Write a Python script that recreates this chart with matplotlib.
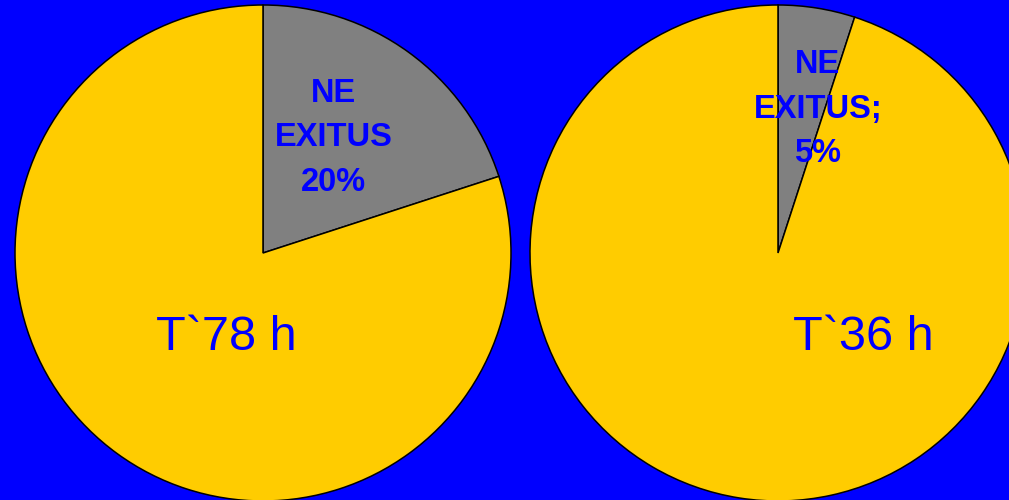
import matplotlib.pyplot as plt

plt.rcParams['font.family'] = ['Liberation Sans', 'DejaVu Sans']

# share of cases per group: exitus (grey) vs not
groups = ['T`78 h', 'T`36 h']
ne_exitus = [20, 5]
seps = ['', ';']
rest = [100 - v for v in ne_exitus]

# where the texts sit inside each pie (pie radius = 1)
label_pos = [(0.286, 0.464), (0.161, 0.58)]
group_pos = [(-0.149, -0.339), (0.343, -0.339)]

bg = '#0000ff'
fig = plt.figure(figsize=(10.09, 5.0), dpi=100, facecolor=bg)

W, H = 1009, 500
centers = [263, 778]
r = 248

for i in range(2):
    cx = centers[i]
    ax = fig.add_axes([(cx - r) / W, (H - 253 - r) / H, 2 * r / W, 2 * r / H])
    ax.set_facecolor(bg)
    ax.pie([ne_exitus[i], rest[i]], colors=['#808080', '#ffcc00'],
           startangle=90, counterclock=False, radius=1,
           wedgeprops=dict(edgecolor='black', linewidth=1.1))
    ax.set_xlim(-1, 1)
    ax.set_ylim(-1, 1)
    ax.set_aspect('equal')
    ax.axis('off')

    lx, ly = label_pos[i]
    ax.text(lx, ly, f"NE\nEXITUS{seps[i]}\n{ne_exitus[i]}%", color=bg,
            fontsize=23.5, fontweight='bold', ha='center', va='center',
            linespacing=1.55)
    gx, gy = group_pos[i]
    ax.text(gx, gy, groups[i], color=bg, fontsize=35,
            ha='center', va='center')

fig.savefig('out.png', dpi=100, facecolor=bg)
